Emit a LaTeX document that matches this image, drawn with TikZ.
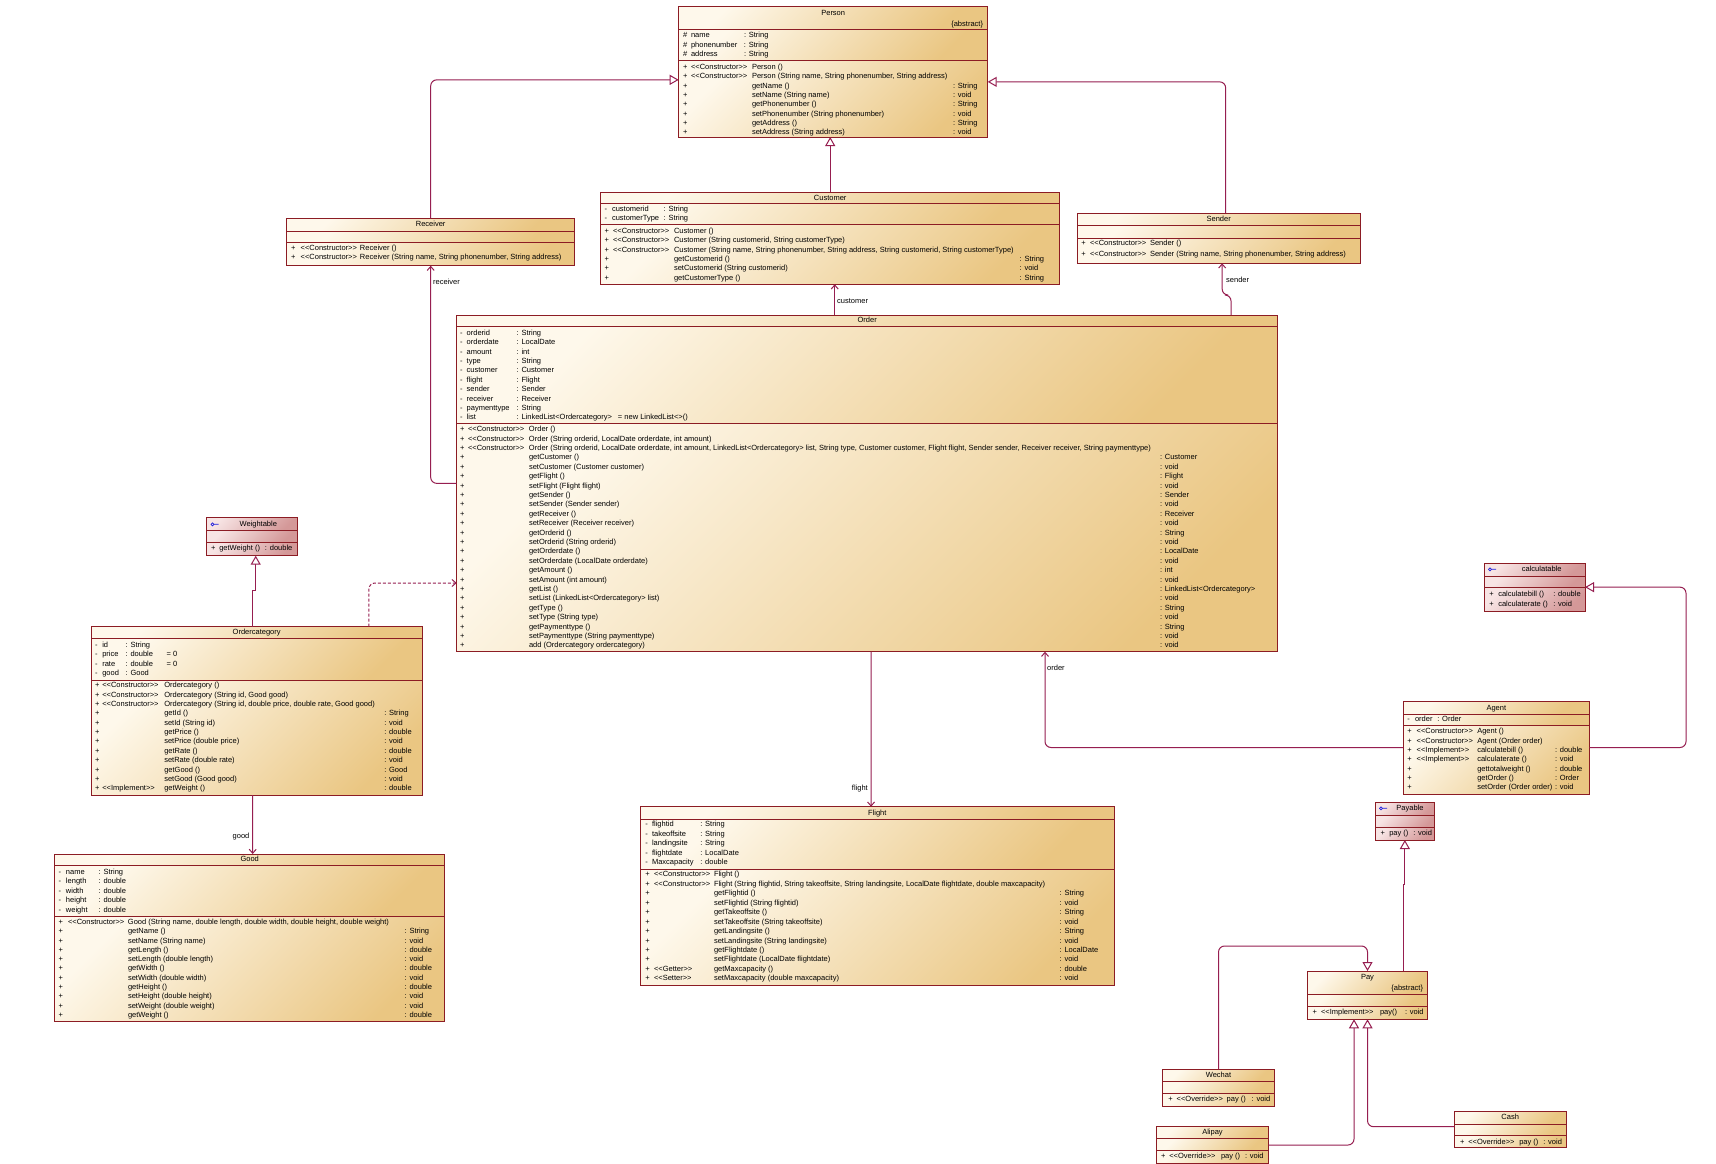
\documentclass[tikz,border=0pt]{standalone}
\usepackage{fontspec}
\setmainfont{Liberation Sans}[Ligatures=TeXOff]
\usetikzlibrary{arrows.meta}
\definecolor{cl1}{RGB}{254,248,235}
\definecolor{cl2}{RGB}{234,198,130}
\definecolor{if1}{RGB}{247,228,228}
\definecolor{if2}{RGB}{212,152,152}
\definecolor{bd}{RGB}{140,28,36}
\definecolor{lc}{RGB}{150,30,80}
\definecolor{ic}{RGB}{30,30,220}
\newcounter{tn}
\newcommand\colbox[2]{\makebox[#1pt][l]{#2}}
\newcommand\setcols[4]{\gdef\Kx{#1}\gdef\Ka{#2}\gdef\Kb{#3}\gdef\Kc{#4}}
\newcommand\mrow[4]{\stepcounter{tn}\node[txt] (t\thetn) at (\Kx,#1) {\colbox{\Ka}{+}\colbox{\Kb}{#2}\colbox{\Kc}{#3}#4};}
\newcommand\setattrs[3]{\gdef\Lx{#1}\gdef\La{#2}\gdef\Lb{#3}}
\newcommand\arow[4]{\stepcounter{tn}\node[txt] (t\thetn) at (\Lx,#1) {\colbox{\La}{#2}\colbox{\Lb}{#3}#4};}
\newcommand\ttl[3]{\stepcounter{tn}\node[txt,anchor=base] (t\thetn) at (#1,#2) {#3};}
\newcommand\ttr[3]{\stepcounter{tn}\node[txt,anchor=base east] (t\thetn) at (#1,#2) {#3};}
\newcommand\tfree[3]{\stepcounter{tn}\node[txt] (t\thetn) at (#1,#2) {#3};}
\newcommand\icon[2]{\draw[ic,line width=0.7pt] (#1,#2) circle[radius=1.5pt] ++(1.5,0) -- ++(4.5,0);}
\newcommand\cls[8]{%
  \shade[#8] (#2,#4) rectangle (#3,#5);
  \shade[#8] (#2,#5) rectangle (#3,#6);
  \shade[#8] (#2,#6) rectangle (#3,#7);
  \draw[sepline] (#2,#5) -- (#3,#5) (#2,#6) -- (#3,#6);
  \node[clsbox, minimum width={(#3-#2)*1pt}, minimum height={(#7-#4)*1pt}] (#1) at ({(#2+#3)/2},{(#4+#7)/2}) {};
}
\begin{document}
\begin{tikzpicture}[x=1pt,y=-1pt,
  txt/.style={anchor=base west, inner sep=0pt, outer sep=0pt, font=\fontsize{7.5}{8}\selectfont},
  lbl/.style={inner sep=0pt, font=\fontsize{7.5}{8}\selectfont},
  cfill/.style={top color=cl1, bottom color=cl2, shading angle=45},
  ifill/.style={top color=if1, bottom color=if2, shading angle=45},
  sepline/.style={draw=bd, line width=0.8pt},
  clsbox/.style={draw=bd, line width=1pt, inner sep=0pt, outer sep=0pt, rectangle},
  con/.style={draw=lc, line width=1pt, rounded corners=6pt},
  gen/.style={con, -{Triangle[fill=white, length=9pt, width=10pt]}},
  assoc/.style={con, -{Straight Barb[length=4pt, width=7pt]}},
  dep/.style={con, dash pattern=on 3pt off 2pt, -{Straight Barb[length=4pt, width=7pt]}}]
\useasboundingbox[fill=white] (0,0) rectangle (1716,1164);

% ---------- class boxes ----------
\cls{person}{678.7}{987.7}{6.7}{29.3}{60.7}{137}{cfill}
\cls{receiver}{286.7}{574.7}{218.3}{231}{242.7}{265.7}{cfill}
\cls{customer}{600.7}{1059.7}{192.3}{203.3}{224.3}{284.3}{cfill}
\cls{sender}{1077.3}{1360}{213.3}{225}{238.3}{263.3}{cfill}
\cls{order}{456.7}{1277.7}{315}{326.7}{423.3}{651.7}{cfill}
\cls{weightable}{206.7}{297.3}{517.3}{530.7}{542.7}{555.7}{ifill}
\cls{ordercat}{91}{422.3}{626.7}{638.3}{680}{795}{cfill}
\cls{good}{54.7}{444.7}{854}{865}{916}{1021.7}{cfill}
\cls{flight}{640.7}{1114}{806.7}{819}{869}{985}{cfill}
\cls{calculatable}{1484.3}{1585}{563.3}{576.7}{587.3}{611}{ifill}
\cls{agent}{1403.3}{1589.3}{701}{714}{725.7}{794}{cfill}
\cls{payable}{1375.7}{1434}{802.3}{815.7}{827.7}{840}{ifill}
\cls{pay}{1307.7}{1427.3}{971}{994.3}{1006}{1019.3}{cfill}
\cls{wechat}{1162.7}{1274.3}{1069.3}{1081.7}{1093.3}{1106}{cfill}
\cls{alipay}{1156.7}{1268.3}{1126.7}{1138.3}{1150}{1163.3}{cfill}
\cls{cash}{1454.3}{1566}{1111.7}{1124}{1135.7}{1147.7}{cfill}

% ---------- Person ----------
\ttl{833.2}{15.3}{Person}
\ttr{983}{26.6}{\{abstract\}}
\setattrs{683}{8}{53}
\arow{37.6}{\#}{name}{: String}
\arow{47.1}{\#}{phonenumber}{: String}
\arow{56.6}{\#}{address}{: String}
\setcols{683}{8}{61}{201}
\mrow{69.3}{<<Constructor>>}{Person ()}{}
\mrow{78.67}{<<Constructor>>}{Person (String name, String phonenumber, String address)}{}
\mrow{88.04}{}{getName ()}{: String}
\mrow{97.41}{}{setName (String name)}{: void}
\mrow{106.78}{}{getPhonenumber ()}{: String}
\mrow{116.15}{}{setPhonenumber (String phonenumber)}{: void}
\mrow{125.52}{}{getAddress ()}{: String}
\mrow{134.89}{}{setAddress (String address)}{: void}

% ---------- Receiver ----------
\ttl{430.7}{226.9}{Receiver}
\setcols{291}{9.7}{59.3}{200}
\mrow{250.2}{<<Constructor>>}{Receiver ()}{}
\mrow{259.8}{<<Constructor>>}{Receiver (String name, String phonenumber, String address)}{}

% ---------- Customer ----------
\ttl{830.2}{200.9}{Customer}
\setattrs{604.7}{7.3}{51.7}
\arow{211.9}{-}{customerid}{: String}
\arow{220.9}{-}{customerType}{: String}
\setcols{604.7}{8.3}{61}{345.7}
\mrow{233.3}{<<Constructor>>}{Customer ()}{}
\mrow{242.7}{<<Constructor>>}{Customer (String customerid, String customerType)}{}
\mrow{252.1}{<<Constructor>>}{Customer (String name, String phonenumber, String address, String customerid, String customerType)}{}
\mrow{261.5}{}{getCustomerid ()}{: String}
\mrow{270.9}{}{setCustomerid (String customerid)}{: void}
\mrow{280.3}{}{getCustomerType ()}{: String}

% ---------- Sender ----------
\ttl{1218.7}{221.9}{Sender}
\setcols{1081.3}{8.7}{60}{200}
\mrow{245.9}{<<Constructor>>}{Sender ()}{}
\mrow{256.6}{<<Constructor>>}{Sender (String name, String phonenumber, String address)}{}

% ---------- Order ----------
\ttl{867.2}{322.6}{Order}
\setattrs{460}{6.7}{50}
\arow{335.3}{-}{orderid}{: String}
\arow{344.7}{-}{orderdate}{: LocalDate}
\arow{354.1}{-}{amount}{: int}
\arow{363.5}{-}{type}{: String}
\arow{372.9}{-}{customer}{: Customer}
\arow{382.3}{-}{flight}{: Flight}
\arow{391.7}{-}{sender}{: Sender}
\arow{401.1}{-}{receiver}{: Receiver}
\arow{410.5}{-}{paymenttype}{: String}
\arow{419.9}{-}{list}{\colbox{101.3}{: LinkedList<Ordercategory>}= new LinkedList<>()}
\setcols{460}{8}{61}{631}
\mrow{431.6}{<<Constructor>>}{Order ()}{}
\mrow{441.0}{<<Constructor>>}{Order (String orderid, LocalDate orderdate, int amount)}{}
\mrow{450.4}{<<Constructor>>}{Order (String orderid, LocalDate orderdate, int amount, LinkedList<Ordercategory> list, String type, Customer customer, Flight flight, Sender sender, Receiver receiver, String paymenttype)}{}
\mrow{459.8}{}{getCustomer ()}{: Customer}
\mrow{469.2}{}{setCustomer (Customer customer)}{: void}
\mrow{478.6}{}{getFlight ()}{: Flight}
\mrow{488.0}{}{setFlight (Flight flight)}{: void}
\mrow{497.4}{}{getSender ()}{: Sender}
\mrow{506.8}{}{setSender (Sender sender)}{: void}
\mrow{516.2}{}{getReceiver ()}{: Receiver}
\mrow{525.6}{}{setReceiver (Receiver receiver)}{: void}
\mrow{535.0}{}{getOrderid ()}{: String}
\mrow{544.4}{}{setOrderid (String orderid)}{: void}
\mrow{553.8}{}{getOrderdate ()}{: LocalDate}
\mrow{563.2}{}{setOrderdate (LocalDate orderdate)}{: void}
\mrow{572.6}{}{getAmount ()}{: int}
\mrow{582.0}{}{setAmount (int amount)}{: void}
\mrow{591.4}{}{getList ()}{: LinkedList<Ordercategory>}
\mrow{600.8}{}{setList (LinkedList<Ordercategory> list)}{: void}
\mrow{610.2}{}{getType ()}{: String}
\mrow{619.6}{}{setType (String type)}{: void}
\mrow{629.0}{}{getPaymenttype ()}{: String}
\mrow{638.4}{}{setPaymenttype (String paymenttype)}{: void}
\mrow{647.8}{}{add (Ordercategory ordercategory)}{: void}

% ---------- Weightable ----------
\icon{212.5}{524.3}
\ttl{258.3}{526.9}{Weightable}
\tfree{211}{550.9}{\colbox{8.3}{+}\colbox{45.7}{getWeight ()}: double}

% ---------- Ordercategory ----------
\ttl{256.7}{634.9}{Ordercategory}
\setattrs{95}{7.3}{23.4}
\arow{647.6}{-}{id}{: String}
\arow{656.9}{-}{price}{\colbox{41}{: double}= 0}
\arow{666.3}{-}{rate}{\colbox{41}{: double}= 0}
\arow{675.9}{-}{good}{: Good}
\setcols{95}{7.3}{62}{220}
\mrow{687.6}{<<Constructor>>}{Ordercategory ()}{}
\mrow{697.0}{<<Constructor>>}{Ordercategory (String id, Good good)}{}
\mrow{706.4}{<<Constructor>>}{Ordercategory (String id, double price, double rate, Good good)}{}
\mrow{715.8}{}{getId ()}{: String}
\mrow{725.2}{}{setId (String id)}{: void}
\mrow{734.6}{}{getPrice ()}{: double}
\mrow{743.9}{}{setPrice (double price)}{: void}
\mrow{753.3}{}{getRate ()}{: double}
\mrow{762.7}{}{setRate (double rate)}{: void}
\mrow{772.1}{}{getGood ()}{: Good}
\mrow{781.5}{}{setGood (Good good)}{: void}
\mrow{790.9}{<<Implement>>}{getWeight ()}{: double}

% ---------- Good ----------
\ttl{249.7}{861.9}{Good}
\setattrs{58.7}{7.3}{32.7}
\arow{874.3}{-}{name}{: String}
\arow{883.8}{-}{length}{: double}
\arow{893.3}{-}{width}{: double}
\arow{902.8}{-}{height}{: double}
\arow{912.3}{-}{weight}{: double}
\setcols{58.7}{9.3}{60}{276.7}
\mrow{924.3}{<<Constructor>>}{Good (String name, double length, double width, double height, double weight)}{}
\mrow{933.6}{}{getName ()}{: String}
\mrow{943.0}{}{setName (String name)}{: void}
\mrow{952.3}{}{getLength ()}{: double}
\mrow{961.6}{}{setLength (double length)}{: void}
\mrow{970.9}{}{getWidth ()}{: double}
\mrow{980.3}{}{setWidth (double width)}{: void}
\mrow{989.6}{}{getHeight ()}{: double}
\mrow{998.9}{}{setHeight (double height)}{: void}
\mrow{1008.3}{}{setWeight (double weight)}{: void}
\mrow{1017.6}{}{getWeight ()}{: double}

% ---------- Flight ----------
\ttl{877.3}{815.3}{Flight}
\setattrs{645.3}{6.7}{48.3}
\arow{826.9}{-}{flightid}{: String}
\arow{836.4}{-}{takeoffsite}{: String}
\arow{845.9}{-}{landingsite}{: String}
\arow{855.4}{-}{flightdate}{: LocalDate}
\arow{864.9}{-}{Maxcapacity}{: double}
\setcols{645.3}{8.7}{60}{345.7}
\mrow{876.6}{<<Constructor>>}{Flight ()}{}
\mrow{886.1}{<<Constructor>>}{Flight (String flightid, String takeoffsite, String landingsite, LocalDate flightdate, double maxcapacity)}{}
\mrow{895.6}{}{getFlightid ()}{: String}
\mrow{905.0}{}{setFlightid (String flightid)}{: void}
\mrow{914.5}{}{getTakeoffsite ()}{: String}
\mrow{924.0}{}{setTakeoffsite (String takeoffsite)}{: void}
\mrow{933.5}{}{getLandingsite ()}{: String}
\mrow{943.0}{}{setLandingsite (String landingsite)}{: void}
\mrow{952.4}{}{getFlightdate ()}{: LocalDate}
\mrow{961.9}{}{setFlightdate (LocalDate flightdate)}{: void}
\mrow{971.4}{<<Getter>>}{getMaxcapacity ()}{: double}
\mrow{980.9}{<<Setter>>}{setMaxcapacity (double maxcapacity)}{: void}

% ---------- calculatable ----------
\icon{1490}{569.3}
\ttl{1541.7}{571.9}{calculatable}
\tfree{1489.3}{596.9}{\colbox{9}{+}\colbox{55}{calculatebill ()}: double}
\tfree{1489.3}{606.9}{\colbox{9}{+}\colbox{55}{calculaterate ()}: void}

% ---------- Agent ----------
\ttl{1496.3}{710.3}{Agent}
\tfree{1407.3}{721.9}{\colbox{7.7}{-}\colbox{22.3}{order}: Order}
\setcols{1407.3}{9.4}{60.6}{77.7}
\mrow{733.6}{<<Constructor>>}{Agent ()}{}
\mrow{743.0}{<<Constructor>>}{Agent (Order order)}{}
\mrow{752.4}{<<Implement>>}{calculatebill ()}{: double}
\mrow{761.7}{<<Implement>>}{calculaterate ()}{: void}
\mrow{771.1}{}{gettotalweight ()}{: double}
\mrow{780.5}{}{getOrder ()}{: Order}
\mrow{789.9}{}{setOrder (Order order)}{: void}

% ---------- Payable ----------
\icon{1381}{808.3}
\ttl{1410}{810.9}{Payable}
\tfree{1380.7}{835.9}{\colbox{8.6}{+}\colbox{24}{pay ()}: void}

% ---------- Pay ----------
\ttl{1367.5}{979.9}{Pay}
\ttr{1423}{990.9}{\{abstract\}}
\tfree{1312.7}{1014.9}{\colbox{8.3}{+}\colbox{59}{<<Implement>>}\colbox{25}{pay()}: void}

% ---------- Wechat / Alipay / Cash ----------
\ttl{1218.5}{1077.6}{Wechat}
\tfree{1168.3}{1101.9}{\colbox{8.4}{+}\colbox{50}{<<Override>>}\colbox{25}{pay ()}: void}
\ttl{1212.5}{1134.9}{Alipay}
\tfree{1161}{1158.6}{\colbox{8.3}{+}\colbox{51.7}{<<Override>>}\colbox{24}{pay ()}: void}
\ttl{1510.2}{1119.3}{Cash}
\tfree{1460}{1144.9}{\colbox{8.3}{+}\colbox{51}{<<Override>>}\colbox{24}{pay ()}: void}

% ---------- connectors ----------
\draw[gen] (customer.north) -- (customer.north |- person.south);
\draw[gen] (receiver.north) |- ([yshift=-8pt]person.west);
\draw[gen] ([xshift=7pt]sender.north) |- ([yshift=-10pt]person.east);
\draw[assoc] ([xshift=-32.5pt]order.north) -- ([xshift=4.5pt]customer.south);
\draw[assoc] ([xshift=363.8pt]order.north) -- ++(0,-20) -| ([xshift=3.5pt]sender.south);
\draw[assoc] (order.west) -| (receiver.south);
\draw[dep] ([xshift=112.3pt]ordercat.north) |- ([yshift=-99.65pt]order.west);
\draw[gen, sharp corners] ([xshift=-4pt]ordercat.north) -- ++(0,-36) -| ([xshift=3.7pt]weightable.south);
\draw[assoc] ([xshift=-4pt]ordercat.south) -- ([xshift=3pt]good.north);
\draw[assoc] ([xshift=3.8pt]order.south) -- ([xshift=-6.3pt]flight.north);
\draw[assoc] (agent.west) -| ([xshift=177.8pt]order.south);
\draw[gen] (agent.east) -- ++(96.7,0) |- (calculatable.east);
\draw[gen, sharp corners] ([xshift=35.8pt]pay.north) -- ++(0,-86.7) -| (payable.south);
\draw[gen] (wechat.north) -- ++(0,-123.3) -| (pay.north);
\draw[gen] (alipay.east) -| ([xshift=-13.5pt]pay.south);
\draw[gen] ([yshift=3pt]cash.west) -| (pay.south);

% ---------- labels ----------
\node[lbl, anchor=west] (lcust) at (837,301) {customer};
\node[lbl, anchor=west] (lrecv) at (433,281.7) {receiver};
\node[lbl, anchor=west] (lsend) at (1226,280) {sender};
\node[lbl] (lgood) at (241,837) {good};
\node[lbl, anchor=east] (lflight) at (868,789) {flight};
\node[lbl, anchor=west] (lorder) at (1047,667.6) {order};
\end{tikzpicture}
\end{document}
